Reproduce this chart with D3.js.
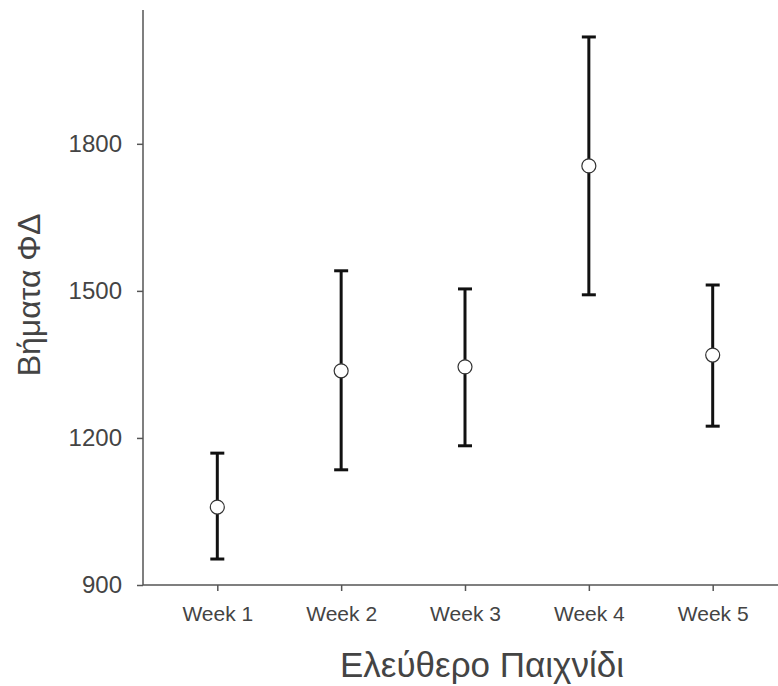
<!DOCTYPE html>
<html>
<head>
<meta charset="utf-8">
<script src="https://cdn.jsdelivr.net/npm/d3@7"></script>
<style>
  body { margin: 0; background: #fff; }
  svg { display: block; font-family: "Liberation Sans", Arial, sans-serif; }
</style>
</head>
<body>
<svg id="chart" width="778" height="686"></svg>
<script>
// data
const weeks = ['Week 1', 'Week 2', 'Week 3', 'Week 4', 'Week 5'];
const means = [1059, 1337, 1345, 1755, 1369];
const upper = [1169, 1541, 1504, 2018, 1512];
const lower = [953, 1135, 1184, 1492, 1224];
const yTicks = [900, 1200, 1500, 1800];

const svg = d3.select('#chart');
const marginLeft = 143, plotBottom = 585, plotTop = 10;

const x = d3.scalePoint()
    .domain(weeks)
    .range([marginLeft, 787])
    .padding(0.6);

const y = d3.scaleLinear()
    .domain([900, 2073])
    .range([plotBottom, plotTop]);

const axisColor = '#555';

// y axis
const yAxis = svg.append('g')
    .attr('transform', `translate(${marginLeft},0)`)
    .call(d3.axisLeft(y).tickValues(yTicks).tickFormat(d3.format('d'))
        .tickSize(6).tickPadding(15).tickSizeOuter(0));
yAxis.select('.domain').attr('d', `M0,${plotBottom}V${plotTop}`)
    .attr('stroke', axisColor).attr('stroke-width', 1.5);
yAxis.selectAll('.tick line').attr('stroke', axisColor).attr('stroke-width', 1.5);
yAxis.selectAll('.tick text').attr('fill', '#444').style('font-size', '24px');

// x axis
const xAxis = svg.append('g')
    .attr('transform', `translate(0,${plotBottom})`)
    .call(d3.axisBottom(x).tickSize(6).tickPadding(15).tickSizeOuter(0));
xAxis.select('.domain').attr('d', `M${marginLeft},0H778`).attr('stroke', axisColor).attr('stroke-width', 1.5);
xAxis.selectAll('.tick line').attr('stroke', axisColor).attr('stroke-width', 1.5);
xAxis.selectAll('.tick text').attr('fill', '#444').style('font-size', '21px');

// axis titles
svg.append('text')
    .attr('x', 482)
    .attr('y', 677)
    .attr('text-anchor', 'middle')
    .attr('fill', '#444')
    .style('font-size', '35px')
    .text('Ελεύθερο Παιχνίδι');

svg.append('text')
    .attr('transform', 'translate(40,295) rotate(-90)')
    .attr('text-anchor', 'middle')
    .attr('fill', '#444')
    .style('font-size', '32px')
    .text('Βήματα ΦΔ');

// error bars
const rows = weeks.map((w, i) => ({ w, m: means[i], hi: upper[i], lo: lower[i] }));
const bars = svg.append('g').selectAll('g')
    .data(rows)
    .enter().append('g');

bars.append('line')
    .attr('x1', d => x(d.w)).attr('x2', d => x(d.w))
    .attr('y1', d => y(d.hi)).attr('y2', d => y(d.lo))
    .attr('stroke', '#111').attr('stroke-width', 3);

bars.append('line')
    .attr('x1', d => x(d.w) - 7).attr('x2', d => x(d.w) + 7)
    .attr('y1', d => y(d.hi)).attr('y2', d => y(d.hi))
    .attr('stroke', '#111').attr('stroke-width', 3);

bars.append('line')
    .attr('x1', d => x(d.w) - 7).attr('x2', d => x(d.w) + 7)
    .attr('y1', d => y(d.lo)).attr('y2', d => y(d.lo))
    .attr('stroke', '#111').attr('stroke-width', 3);

bars.append('circle')
    .attr('cx', d => x(d.w))
    .attr('cy', d => y(d.m))
    .attr('r', 7)
    .attr('fill', '#fff')
    .attr('stroke', '#333')
    .attr('stroke-width', 1.2);
</script>
</body>
</html>
